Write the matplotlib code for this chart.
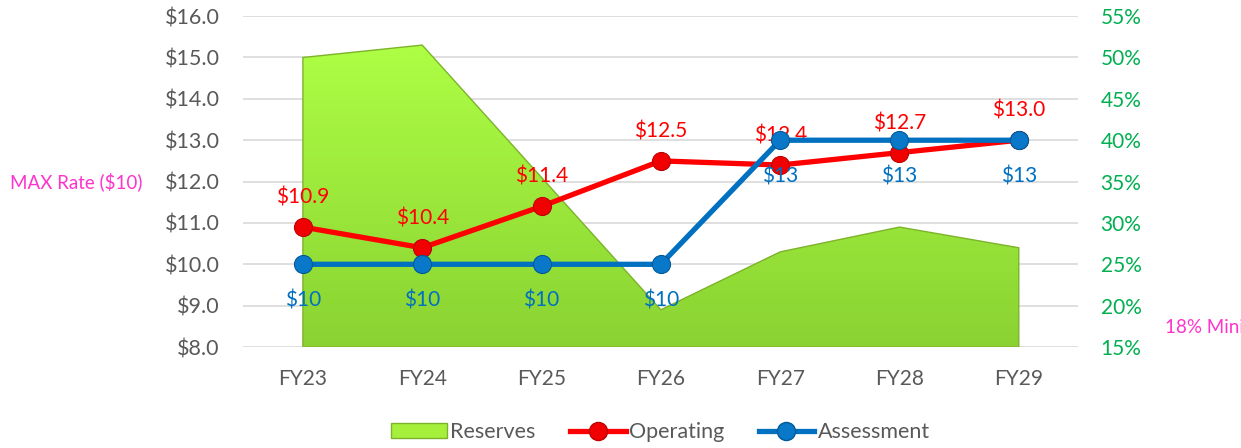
import matplotlib.pyplot as plt
import numpy as np
from matplotlib.patches import Patch, Polygon
from matplotlib.lines import Line2D
from matplotlib.colors import LinearSegmentedColormap

plt.rcParams["font.family"] = ["Lato", "DejaVu Sans"]

years = ["FY23", "FY24", "FY25", "FY26", "FY27", "FY28", "FY29"]
reserves_pct = [50.0, 51.5, 35.5, 19.5, 26.5, 29.5, 27.0]
operating = [10.9, 10.4, 11.4, 12.5, 12.4, 12.7, 13.0]
assessment = [10, 10, 10, 10, 13, 13, 13]

GRAY = "#595959"
RED = "#FF0000"
BLUE = "#0070C0"
GREEN_TXT = "#00B050"
PINK = "#FF33CC"

fig = plt.figure(figsize=(12.41, 4.48), dpi=100)
ax = fig.add_axes([0.196, 0.2254, 0.673, 0.7386])
ax2 = ax.twinx()
x = np.arange(len(years))

# reserves area on right axis, drawn with a vertical gradient
ax2.set_ylim(15, 55)
ax2.set_xlim(-0.5, 6.5)
verts = [(x[0], 15)] + list(zip(x, reserves_pct)) + [(x[-1], 15)]
poly = Polygon(verts, closed=True, facecolor="none", edgecolor="#7DB32A", linewidth=1.0, zorder=2)
ax2.add_patch(poly)
grad = np.linspace(0, 1, 256).reshape(-1, 1)
cmap = LinearSegmentedColormap.from_list("g", ["#8AD232", "#AEFF45"])
im = ax2.imshow(grad, cmap=cmap, aspect="auto", extent=[x[0], x[-1], 15, 52],
                origin="lower", zorder=1)
im.set_clip_path(poly)

# lines on left axis, above the area
ax.set_zorder(ax2.get_zorder() + 1)
ax.patch.set_visible(False)
ax.set_ylim(8, 16)
ax.set_xlim(-0.5, 6.5)

ax.plot(x, operating, color=RED, lw=3.8, marker="o", ms=13,
        markerfacecolor="#F00000", markeredgecolor="#C00000", markeredgewidth=0.8, zorder=3)
ax.plot(x, assessment, color=BLUE, lw=3.8, marker="o", ms=13,
        markerfacecolor="#0A78C8", markeredgecolor="#005A9A", markeredgewidth=0.8, zorder=4)

for xi, v in zip(x, operating):
    ax.annotate(f"${v:.1f}", (xi, v), xytext=(0, 14), textcoords="offset points",
                ha="center", va="bottom", color=RED, fontsize=15)
for xi, v in zip(x, assessment):
    ax.annotate(f"${v:d}", (xi, v), xytext=(0, -19), textcoords="offset points",
                ha="center", va="top", color=BLUE, fontsize=15)

# gridlines and ticks
ax2.set_yticks(np.arange(15, 56, 5))
ax2.set_yticklabels([f"{t}%" for t in range(15, 56, 5)], color=GREEN_TXT, fontsize=15)
ax.set_yticks(np.arange(8, 17, 1))
ax.set_yticklabels([f"${t:.1f}" for t in range(8, 17)], color=GRAY, fontsize=15.5)
ax.set_xticks(x)
ax.set_xticklabels(years, color=GRAY, fontsize=15)
for t in np.arange(8, 17, 1):
    ax2.axhline(15 + (t - 8) * 5, color="#D9D9D9", lw=1.2, zorder=0)
for a in (ax, ax2):
    for s in a.spines.values():
        s.set_visible(False)
    a.tick_params(length=0)
ax.tick_params(axis="y", pad=17)
ax.tick_params(axis="x", pad=16)
ax2.tick_params(axis="y", pad=16)

fig.text(0.008, 0.594, "MAX Rate ($10)", color=PINK, fontsize=13.5, va="center")
fig.text(0.939, 0.27, "18% Minimum", color=PINK, fontsize=13.5, va="center")

handles = [
    Patch(facecolor="#A6F03C", edgecolor="#7DB32A", label="Reserves"),
    Line2D([], [], color=RED, lw=3.8, marker="o", ms=13, markerfacecolor="#F00000",
           markeredgecolor="#C00000", label="Operating"),
    Line2D([], [], color=BLUE, lw=3.8, marker="o", ms=13, markerfacecolor="#0A78C8",
           markeredgecolor="#005A9A", label="Assessment"),
]
leg = fig.legend(handles=handles, loc="lower center", bbox_to_anchor=(0.532, -0.03), ncol=3,
                 frameon=False, fontsize=15.5, handlelength=2.6, handletextpad=0.15,
                 columnspacing=1.6)
for t in leg.get_texts():
    t.set_color(GRAY)

fig.savefig("out.png", dpi=100)
